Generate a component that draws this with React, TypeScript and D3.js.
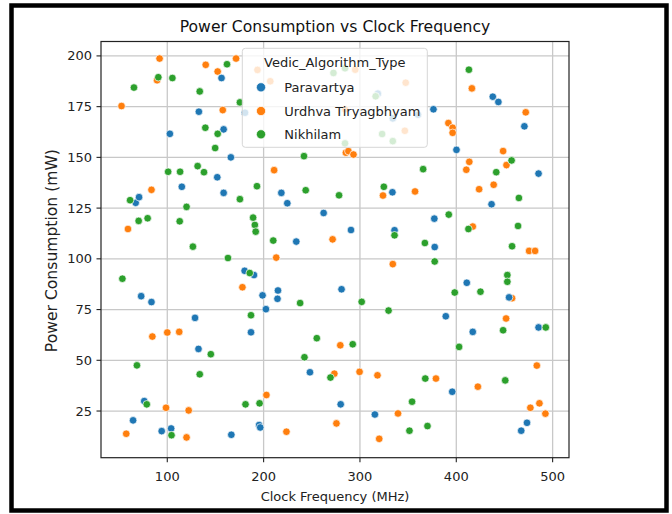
import React from "react";
import * as d3 from "d3";

const seriesNames = ["Paravartya", "Urdhva Tiryagbhyam", "Nikhilam"];
const seriesColors = ["#1f77b4", "#ff7f0e", "#2ca02c"];

const paravartyaFreq = [156.3, 132.8, 180.7, 102.7, 158.5, 166, 151.9, 115.1, 158.5, 218.4, 224.6, 262.3, 318.6, 334.1, 360.3, 376.3, 400.2, 437.9, 443.7, 470.7, 485.4, 436.6, 333.7, 377.2, 335.9, 290.7, 233.9, 377.6, 67.2, 70.7, 72.9, 83.6, 128.8, 132.4, 76.1, 64.5, 94.2, 104, 166.5, 180.3, 190, 198.9, 202.4, 214.9, 214.4, 186.9, 248.1, 195.3, 280.9, 280, 315.5, 395.8, 389.1, 410.9, 417.1, 454.8, 485.4, 467.4, 473.4, 196.5];
const paravartyaPower = [189.1, 172.5, 172, 161.6, 163.8, 150, 140.2, 135.5, 132.5, 132.5, 127.4, 122.6, 181.4, 169.2, 171, 173.7, 153.7, 179.9, 177.3, 165.3, 142, 126.9, 132.8, 119.8, 114.1, 114.2, 108.5, 105.8, 127.6, 130.4, 81.6, 78.7, 70.9, 55.6, 29.9, 20.4, 15.1, 16.4, 13.3, 94.1, 92, 82, 75.2, 84.4, 80.3, 63.8, 44.1, 18.1, 85, 28.3, 23.3, 34.5, 71.7, 88.2, 64, 81, 66.2, 15.3, 19.2, 16.9];

const urdhvaFreq = [52.5, 92, 89.4, 139.9, 152.3, 171.4, 157.6, 193.6, 206.9, 295.1, 284.5, 347.5, 346.6, 210.9, 285.4, 288, 293.3, 391.8, 396.2, 396.2, 410.4, 413.5, 416.2, 472.1, 448.6, 452.1, 423.7, 438.8, 323.9, 357.2, 417.1, 271.6, 475.6, 481.8, 213.1, 334.1, 83.6, 59.2, 84.5, 100, 112.4, 57.4, 98.7, 122.2, 120, 178, 202.9, 223.7, 279.6, 273.4, 299.6, 318.2, 275.6, 320, 339.5, 378.9, 422.4, 451.7, 457.9, 483.6, 476.9, 486.3, 492.5];
const urdhvaPower = [175.3, 198.7, 188, 195.6, 192.3, 198.7, 173.3, 193.1, 187.5, 193.2, 173.7, 186.8, 163.1, 143.7, 152.3, 153.1, 151.4, 166.9, 164.6, 162.1, 143.9, 147.8, 184, 172.2, 153.1, 146.2, 134.3, 136.5, 131.2, 133.2, 115.9, 109.6, 103.9, 103.9, 100.6, 97.4, 134, 114.7, 61.7, 63.7, 64, 13.8, 26.6, 25.3, 12, 86, 32.9, 14.8, 57.4, 43.4, 44.3, 42.6, 18.9, 11.3, 23.8, 41, 37, 70.6, 80.6, 47.4, 26.6, 28.8, 23.7];

const nikhilamFreq = [90.7, 65.4, 105.3, 162, 133.7, 175.4, 139.5, 152.3, 149.7, 131.5, 138.1, 100.9, 113.3, 175.4, 193.1, 243.7, 241.9, 278.3, 284.5, 272.5, 284.5, 316.3, 323, 334.1, 413.1, 457.4, 441.5, 365.6, 465, 324.8, 392.2, 412.6, 464.1, 335.9, 210, 367.4, 457.9, 163, 377.6, 190.9, 191.8, 189.1, 61.4, 70.3, 79.6, 112.9, 120, 126.6, 53.4, 145.2, 133.7, 68.5, 78.7, 104.4, 181.2, 185.6, 186.9, 237.9, 255.2, 242.4, 195.8, 301.8, 329.7, 292.5, 269.4, 354.1, 351.4, 370.1, 367.8, 450.8, 398.4, 425.1, 402.9, 448.6, 453, 453, 492.9];
const nikhilamPower = [189.5, 184.4, 189.1, 195.9, 182.5, 177.1, 164.6, 161.6, 154.6, 145.7, 142.7, 142.9, 142.9, 129.4, 135.8, 133.8, 150.6, 131.3, 156.9, 191.6, 193.9, 180.1, 161.5, 158, 193.2, 148.5, 142.7, 144.2, 130, 135.5, 121.8, 114.7, 116.2, 111.6, 109, 107.8, 106.2, 100.4, 98.7, 116.7, 113.4, 120.3, 128.9, 118.7, 120, 118.5, 125.6, 106, 90.2, 53, 43.1, 47.5, 28.3, 13.1, 28.3, 93, 72.2, 78.2, 60.9, 51.5, 28.8, 78.8, 74.5, 57.9, 41.5, 29.6, 15.3, 17.6, 41, 40.1, 83.4, 83.8, 56.6, 64.8, 92, 88.7, 66.2];

const xTicks = [100, 200, 300, 400, 500];
const yTicks = [25, 50, 75, 100, 125, 150, 175, 200];

const titleText = "Power Consumption vs Clock Frequency";
const xLabel = "Clock Frequency (MHz)";
const yLabel = "Power Consumption (mW)";
const legendTitle = "Vedic_Algorithm_Type";

const FONT = "DejaVu Sans";

export default function App() {
  const W = 672;
  const H = 514;
  const left = 101, right = 569, top = 41.5, bottom = 457.7;
  const x = d3.scaleLinear().domain([31.2, 517]).range([left, right]);
  const y = d3.scaleLinear().domain([2.0, 207.1]).range([bottom, top]);

  const series = [
    { name: seriesNames[0], color: seriesColors[0], xs: paravartyaFreq, ys: paravartyaPower },
    { name: seriesNames[1], color: seriesColors[1], xs: urdhvaFreq, ys: urdhvaPower },
    { name: seriesNames[2], color: seriesColors[2], xs: nikhilamFreq, ys: nikhilamPower },
  ];
  const drawOrder = [1, 0, 2];

  const legX = 242.3, legY = 48.3, legW = 185, legH = 99;
  const entryY = [87.3, 111, 134.3];

  return (
    <svg width={W} height={H} style={{ position: "absolute", left: 0, top: 0, background: "#fff" }} fontFamily={FONT}>
      <rect x={0} y={0} width={W} height={H} fill="#fff" />
      {/* grid */}
      {xTicks.map((t) => (
        <line key={"gx" + t} x1={x(t)} x2={x(t)} y1={top} y2={bottom} stroke="#c8c8c8" strokeWidth={1.3} />
      ))}
      {yTicks.map((t) => (
        <line key={"gy" + t} x1={left} x2={right} y1={y(t)} y2={y(t)} stroke="#c8c8c8" strokeWidth={1.3} />
      ))}
      {/* points */}
      {drawOrder.map((si) => {
        const s = series[si];
        return (
          <g key={s.name}>
            {s.xs.map((v, i) => (
              <circle key={i} cx={x(v)} cy={y(s.ys[i])} r={3.8} fill={s.color} stroke="#fff" strokeWidth={0.7} />
            ))}
          </g>
        );
      })}
      {/* spines */}
      <rect x={left} y={top} width={right - left} height={bottom - top} fill="none" stroke="#222" strokeWidth={1.2} />
      {/* x ticks */}
      {xTicks.map((t) => (
        <g key={"xt" + t}>
          <line x1={x(t)} x2={x(t)} y1={bottom} y2={bottom + 4.5} stroke="#222" strokeWidth={1.1} />
          <text x={x(t)} y={481} textAnchor="middle" fontSize={13} fill="#222">{t}</text>
        </g>
      ))}
      {yTicks.map((t) => (
        <g key={"yt" + t}>
          <line x1={left - 4.5} x2={left} y1={y(t)} y2={y(t)} stroke="#222" strokeWidth={1.1} />
          <text x={92} y={y(t)} textAnchor="end" dominantBaseline="central" fontSize={13} fill="#222">{t}</text>
        </g>
      ))}
      {/* labels */}
      <text x={(left + right) / 2} y={31.5} textAnchor="middle" fontSize={15.6} fill="#111">{titleText}</text>
      <text x={(left + right) / 2} y={501} textAnchor="middle" fontSize={13} fill="#222">{xLabel}</text>
      <text transform={`translate(57,${(top + bottom) / 2 + 1}) rotate(-90)`} textAnchor="middle" fontSize={15.6} fill="#222">{yLabel}</text>
      {/* legend */}
      <rect x={legX} y={legY} width={legW} height={legH} rx={3} fill="#fff" fillOpacity={0.8} stroke="#d6d6d6" strokeWidth={1} />
      <text x={legX + legW / 2} y={66.5} textAnchor="middle" fontSize={13} fill="#222">{legendTitle}</text>
      {series.map((s, i) => (
        <g key={"leg" + s.name}>
          <circle cx={261} cy={entryY[i]} r={4.6} fill={s.color} stroke="#fff" strokeWidth={0.7} />
          <text x={284.3} y={entryY[i]} dominantBaseline="central" fontSize={13} fill="#222">{s.name}</text>
        </g>
      ))}
      {/* outer frame */}
      <rect x={11.5} y={5.5} width={655} height={505} fill="none" stroke="#000" strokeWidth={4.5} />
    </svg>
  );
}
